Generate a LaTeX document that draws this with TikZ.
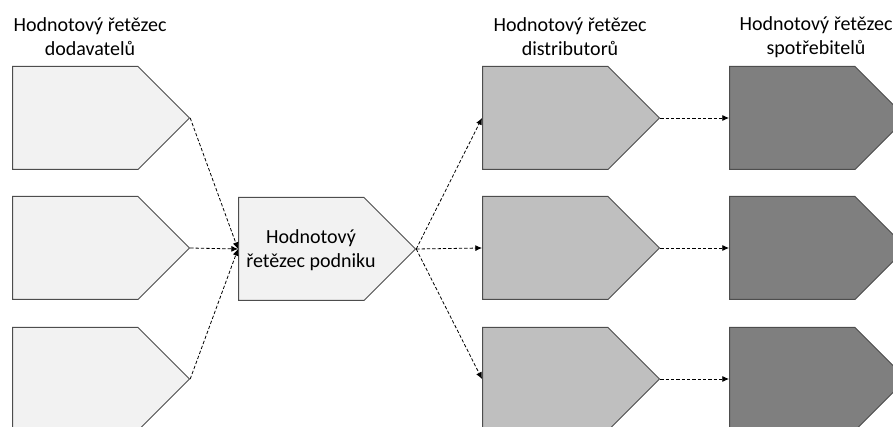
\documentclass[tikz,border=0pt]{standalone}
\usepackage{fontspec}
\setmainfont{Carlito}
\usetikzlibrary{shapes.symbols,arrows.meta}
\definecolor{chainlight}{HTML}{F2F2F2}
\definecolor{chainmid}{HTML}{BFBFBF}
\definecolor{chaindark}{HTML}{7F7F7F}
\definecolor{chainline}{HTML}{4D4D4D}
\begin{document}
\begin{tikzpicture}[x=0.75pt,y=-0.75pt,
    font=\fontsize{15}{18}\selectfont,
    chain/.style={signal,signal to=east,signal pointer angle=90,draw=chainline,line width=0.75pt,
        minimum width=132.75pt,minimum height=77.25pt,inner sep=0pt,anchor=west},
    flow/.style={dashed,dash pattern=on 2.5pt off 1.5pt,line width=0.6pt,-{Latex[length=5pt,width=4.5pt]}}]
        \clip (0,0) rectangle (893,427);
        \useasboundingbox (0,0) rectangle (893,427);
        % titles
        \node[align=center] (tsup) at (90,37) {Hodnotový řetězec\\dodavatelů};
        \node[align=center] (tdis) at (570,37) {Hodnotový řetězec\\distributorů};
        \node[align=center] (tcon) at (816,37) {Hodnotový řetězec\\spotřebitelů};
        % company
        \node[chain,fill=chainlight] (firm) at (238,249) {};
        \node[align=center] (firmtext) at (311,250) {Hodnotový\\řetězec podniku};
        \foreach \i/\y in {1/118,2/248,3/379}
        {
            \node[chain,fill=chainlight] (sup\i) at (12,\y) {};
            \node[chain,fill=chainmid] (dis\i) at (482,\y) {};
            \node[chain,fill=chaindark] (con\i) at (729,\y) {};
            \draw[flow] (sup\i.east) -- (firm.west);
            \draw[flow] (firm.east) -- (dis\i.west);
            \draw[flow] (dis\i.east) -- (con\i.west);
        }
    \end{tikzpicture}
\end{document}
